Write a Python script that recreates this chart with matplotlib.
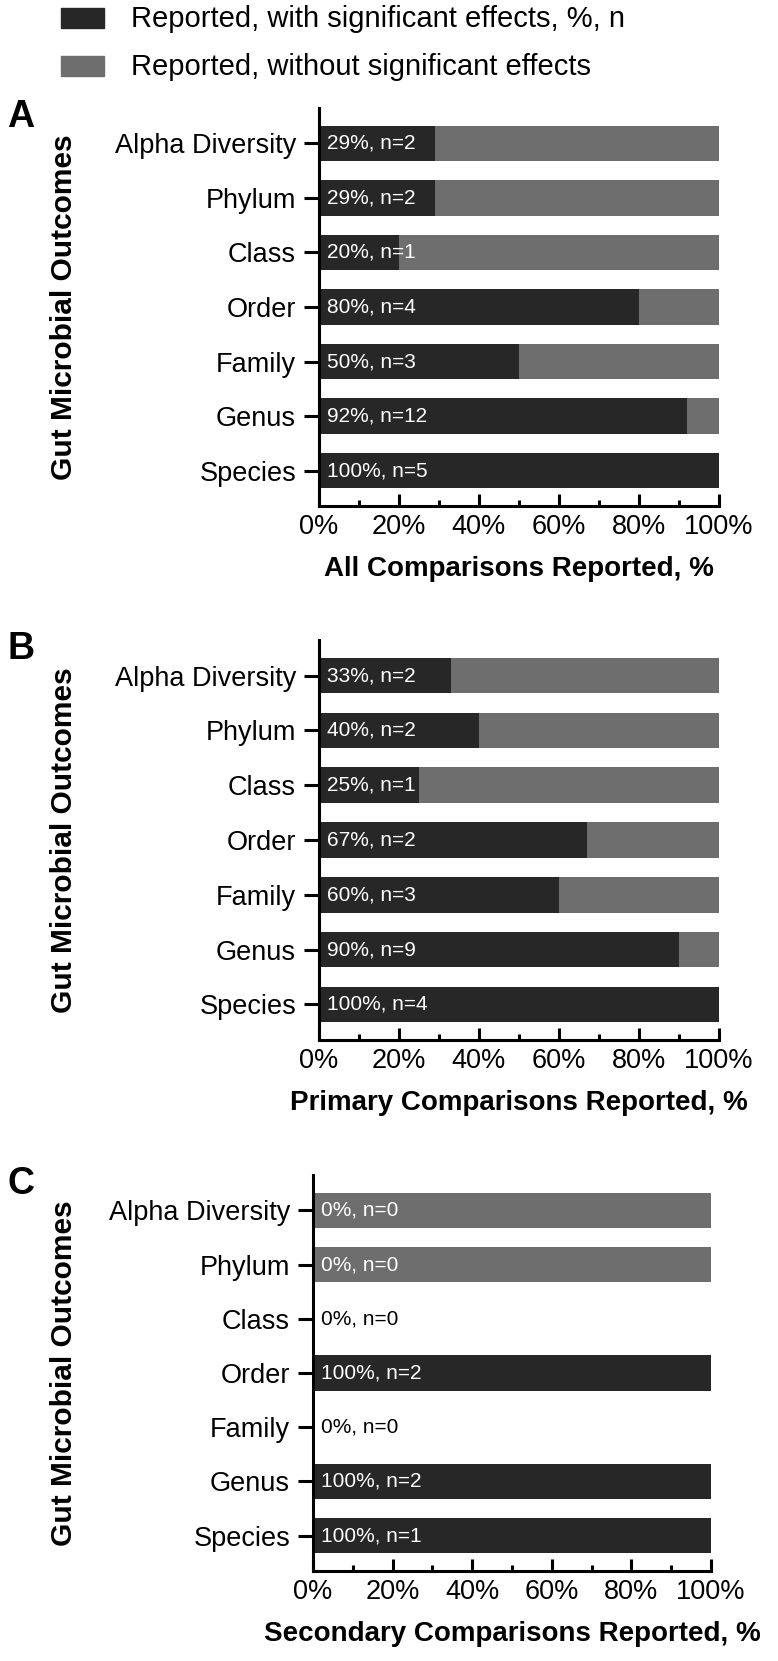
import matplotlib
matplotlib.use('Agg')
import matplotlib.pyplot as plt
import matplotlib.ticker as mticker
from matplotlib.patches import Rectangle
import numpy as np

plt.rcParams['font.family'] = ['Liberation Sans', 'DejaVu Sans']

# ---------------------- data
outcomes = ['Alpha Diversity', 'Phylum', 'Class', 'Order', 'Family', 'Genus', 'Species']

a_sig_pct = [29, 29, 20, 80, 50, 92, 100]
a_n = [2, 2, 1, 4, 3, 12, 5]
a_total_pct = [100, 100, 100, 100, 100, 100, 100]

b_sig_pct = [33, 40, 25, 67, 60, 90, 100]
b_n = [2, 2, 1, 2, 3, 9, 4]
b_total_pct = [100, 100, 100, 100, 100, 100, 100]

c_sig_pct = [0, 0, 0, 100, 0, 100, 100]
c_n = [0, 0, 0, 2, 0, 2, 1]
c_total_pct = [100, 100, 0, 100, 0, 100, 100]

panel_letters = ['A', 'B', 'C']
xlabels = ['All Comparisons Reported, %',
           'Primary Comparisons Reported, %',
           'Secondary Comparisons Reported, %']
legend_labels = ['Reported, with significant effects, %, n',
                 'Reported, without significant effects']
# ---------------------- data

dark = '#272727'
grey = '#6e6e6e'

W, H = 778, 1661
fig = plt.figure(figsize=(W / 100, H / 100), dpi=100)

# axes boxes in pixels: left, top, right, bottom
boxes = [(319, 108, 719, 506),
         (319, 640, 719, 1040),
         (313, 1175, 711, 1571)]

panels = [(a_sig_pct, a_n, a_total_pct),
          (b_sig_pct, b_n, b_total_pct),
          (c_sig_pct, c_n, c_total_pct)]


def draw_panel(ax, sig, n, total, xlabel):
    y = np.arange(len(outcomes))
    sig = np.array(sig, dtype=float)
    total = np.array(total, dtype=float)
    nonsig = total - sig
    ax.barh(y, sig, height=0.65, color=dark, zorder=2)
    ax.barh(y, nonsig, left=sig, height=0.65, color=grey, zorder=2)
    for yi, p, k, t in zip(y, sig, n, total):
        col = 'white' if t > 0 else 'black'
        ax.annotate('%d%%, n=%d' % (p, k), xy=(0, yi), xytext=(6, 0),
                    textcoords='offset points', ha='left', va='center',
                    fontsize=15, color=col, zorder=3)
    ax.set_xlim(0, 100)
    ax.set_ylim(6.65, -0.65)
    ax.set_yticks(y)
    ax.set_yticklabels(outcomes, fontsize=19.5)
    ax.xaxis.set_major_locator(mticker.MultipleLocator(20))
    ax.xaxis.set_minor_locator(mticker.MultipleLocator(10))
    ax.xaxis.set_major_formatter(mticker.PercentFormatter(100, decimals=0))
    ax.tick_params(axis='x', which='major', direction='in', length=8.5, width=2.2, pad=5.5, labelsize=19.5)
    ax.tick_params(axis='x', which='minor', direction='in', length=4.5, width=2.2)
    ax.tick_params(axis='y', which='major', direction='out', length=11, width=2.2, pad=5.5)
    for s in ['top', 'right']:
        ax.spines[s].set_visible(False)
    for s in ['left', 'bottom']:
        ax.spines[s].set_linewidth(2.2)
    ax.set_xlabel(xlabel, fontsize=20, fontweight='bold', labelpad=12)
    ax.set_ylabel('Gut Microbial Outcomes', fontsize=21.5, fontweight='bold')


for (l, t, r, b), (sig, n, total), letter, xl in zip(boxes, panels, panel_letters, xlabels):
    ax = fig.add_axes([l / W, 1 - b / H, (r - l) / W, (b - t) / H])
    draw_panel(ax, sig, n, total, xl)
    ax.yaxis.set_label_coords(-(l - 78) / (r - l), 0.5)
    fig.text(21 / W, 1 - (t + 9) / H, letter, fontsize=27, fontweight='bold',
             ha='center', va='center')

# legend drawn at the top of the figure
for i, (lab, col) in enumerate(zip(legend_labels, [dark, grey])):
    yc = 18 + 48 * i
    fig.add_artist(Rectangle((61 / W, 1 - (yc + 10) / H), 43 / W, 20 / H,
                             transform=fig.transFigure, color=col))
    fig.text(131 / W, 1 - (yc + 9) / H, lab, fontsize=21, ha='left', va='baseline')

fig.savefig('out.png', dpi=100)
